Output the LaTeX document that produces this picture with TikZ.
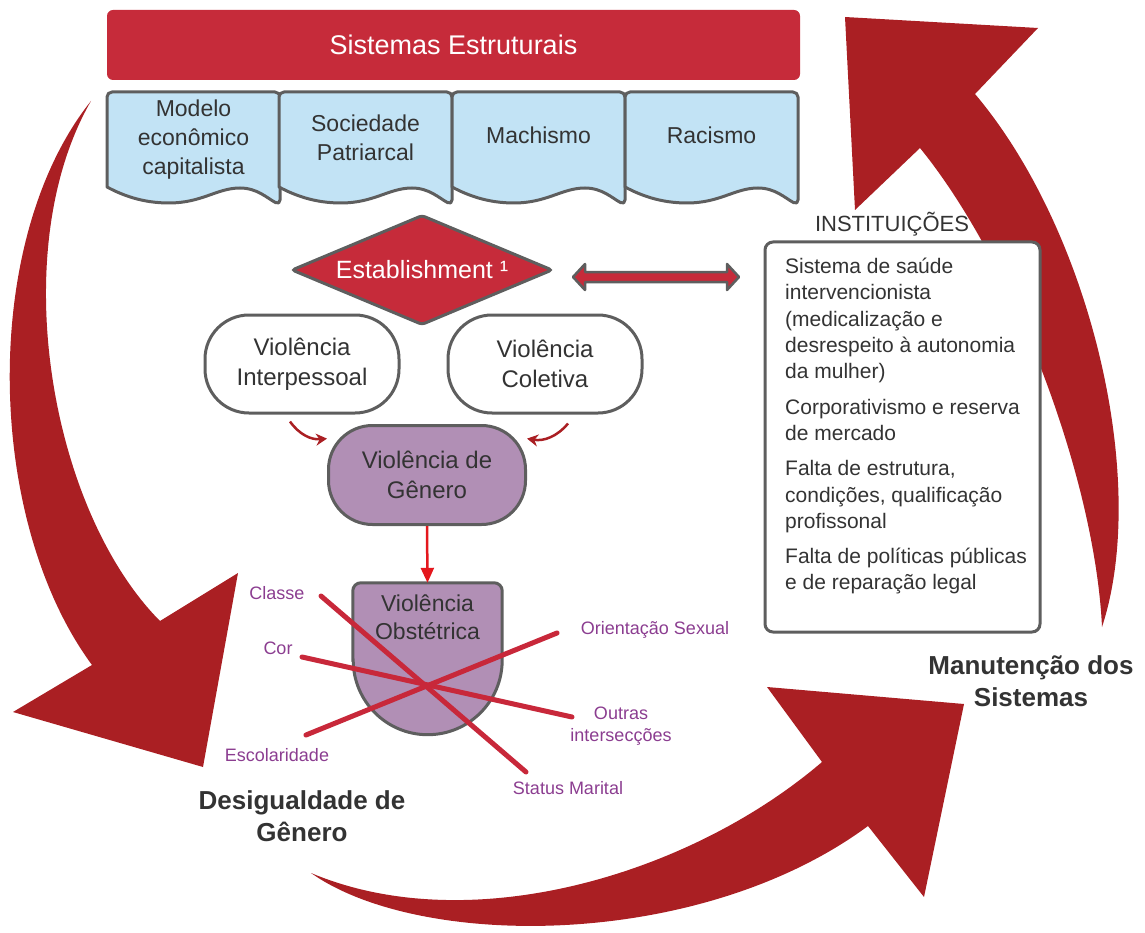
\documentclass[tikz,border=0pt]{standalone}
\usepackage{fontspec}
\setmainfont{Liberation Sans}
\usepackage{xcolor}
\usetikzlibrary{shapes.geometric, arrows.meta, positioning, calc}

\definecolor{sysred}{HTML}{C62B3A}
\definecolor{docblue}{HTML}{C2E3F5}
\definecolor{edgegray}{HTML}{5E5E5E}
\definecolor{viopurple}{HTML}{B18FB5}
\definecolor{bigred}{HTML}{AA1F23}
\definecolor{linered}{HTML}{C8283A}
\definecolor{labelpurple}{HTML}{8B3D90}
\definecolor{textgray}{HTML}{333333}
\definecolor{arrred}{HTML}{E4171D}

\begin{document}
\begin{tikzpicture}[
    x=1pt, y=-1pt,
    bar/.style={rectangle, fill=sysred, rounded corners=6pt, minimum width=693pt, minimum height=70pt, text=white, font=\fontsize{27}{30}\selectfont},
    doc/.style={fill=docblue, draw=edgegray, line width=3pt, line join=round},
    doctxt/.style={align=center, text=textgray, inner sep=0pt, font=\fontsize{23}{29}\selectfont},
    gate/.style={diamond, aspect=2.37, fill=sysred, draw=edgegray, line width=3pt, rounded corners=3pt, minimum width=261pt, minimum height=110pt, inner sep=0pt, text=white, font=\fontsize{25}{28}\selectfont},
    pill/.style={rectangle, draw=edgegray, fill=white, line width=3pt, rounded corners=44pt, minimum width=194pt, minimum height=98pt, align=center, text=textgray, font=\fontsize{24}{30}\selectfont},
    frame/.style={rectangle, draw=edgegray, fill=white, line width=3pt, rounded corners=8pt, minimum width=275pt, minimum height=390pt},
    insttxt/.style={align=left, inner sep=0pt, text=textgray, font=\fontsize{21}{26.3}\selectfont},
    tag/.style={text=labelpurple, inner sep=0pt, align=center, font=\fontsize{18}{22}\selectfont},
    big/.style={text=textgray, inner sep=0pt, align=center, font=\fontsize{26}{32}\selectfont\bfseries},
    cross/.style={draw=linered, line width=5pt, line cap=round},
    carr/.style={-{Stealth[length=11pt, width=12pt]}, draw=bigred, line width=2.5pt},
    sarr/.style={-{Triangle[length=15pt, width=13pt]}, draw=arrred, line width=2.5pt},
    dbl/.style={fill=sysred, draw=edgegray, line width=2.5pt, line join=round}
]
\useasboundingbox (0,0) rectangle (1145,933);

% Big cycle arrows
\fill[bigred] (91,101) .. controls (-20,240) and (-15,520) .. (92,665)
    -- (13,712) -- (203,767) -- (238,573) -- (160,621)
    .. controls (50,510) and (5,250) .. (91,101) -- cycle;
\fill[bigred] (311,873) .. controls (420,950) and (700,950) .. (868,826)
    -- (924,897) -- (964,704) -- (767,687) -- (822,762)
    .. controls (690,875) and (470,940) .. (311,873) -- cycle;
\fill[bigred] (1102,627) .. controls (1150,480) and (1090,230) .. (975,94)
    -- (1038,28) -- (845,17) -- (855,210) -- (920,148)
    .. controls (1015,265) and (1095,480) .. (1102,627) -- cycle;

% Top: structural systems
\node[bar] (sys) at (453.5,45) {Sistemas Estruturais};
\foreach \xa in {107,279,452,625}
    \filldraw[doc] (\xa,187) [rounded corners=5pt] -- (\xa,92) -- ({\xa+173},92) -- ({\xa+173},205) [sharp corners]
        .. controls ({\xa+160},198) and ({\xa+150},188) .. ({\xa+133},188)
        .. controls ({\xa+110},188) and ({\xa+95},203) .. ({\xa+62},203)
        .. controls ({\xa+35},203) and ({\xa+15},195) .. (\xa,187) -- cycle;
\node[doctxt] (capital) at (193.5,140) {Modelo\\econômico\\capitalista};
\node[doctxt] (patriarca) at (365.5,138) {Sociedade\\Patriarcal};
\node[doctxt] (machismo) at (538.5,135) {Machismo};
\node[doctxt] (racismo) at (711.5,135) {Racismo};

% Establishment and institutions
\node[gate] (est) at (422,270) {Establishment ¹};
\node[frame] (inst) at (902.5,437) {};
\node[text=textgray, font=\fontsize{22}{26}\selectfont] (insttitle) at (892,224) {INSTITUIÇÕES};
\node[insttxt, anchor=north west] (instlist) at (785,258) {Sistema de saúde\\intervencionista\\(medicalização e\\desrespeito à autonomia\\da mulher)\\[9pt]Corporativismo e reserva\\de mercado\\[9pt]Falta de estrutura,\\condições, qualificação\\profissonal\\[9pt]Falta de políticas públicas\\e de reparação legal};
\coordinate (dl) at ($(est.east)+(19,7)$);
\draw[dbl] (dl) -- ++(12,-13) -- ++(0,8) -- ++(142,0) -- ++(0,-8) -- ++(12,13) -- ++(-12,13) -- ++(0,-8) -- ++(-142,0) -- ++(0,8) -- cycle;

% Violence types
\node[pill] (inter) at (302,364) {Violência\\Interpessoal};
\node[pill] (col) at (545,364) {Violência\\Coletiva};
\node[pill, fill=viopurple, minimum width=197pt, minimum height=99pt] (gen) at (427,475) {Violência de\\Gênero};
\node[doctxt, minimum width=149pt, minimum height=68pt, font=\fontsize{22}{28}\selectfont] (obst) at (427.5,617) {};
\filldraw[fill=viopurple, draw=edgegray, line width=3pt] ([yshift=-9pt]obst.south west) [rounded corners=8pt] -- (obst.north west) -- (obst.north east) [sharp corners] -- ([yshift=-9pt]obst.south east) arc[start angle=0, end angle=180, radius=74.5] -- cycle;
\node[doctxt, font=\fontsize{23}{28}\selectfont] (obsttxt) at (427.5,617) {Violência\\Obstétrica};

\draw[carr] ([xshift=-12pt, yshift=-7pt]inter.south) to[bend right=30] (gen.160);
\draw[carr] ([xshift=23pt, yshift=-9pt]col.south) to[bend left=30] (gen.20);
\draw[sarr] (gen.south) -- (obst.north);

% Intersections
\coordinate (cls) at (321,596);
\coordinate (mar) at (526,772);
\coordinate (cor) at (302,657);
\coordinate (out) at (572,717);
\coordinate (esc) at (306,735);
\coordinate (ori) at (557,633);
\draw[cross] (cls) -- (mar);
\draw[cross] (cor) -- (out);
\draw[cross] (esc) -- (ori);
\node[tag] (tcls) at (277,593) {Classe};
\node[tag] (tcor) at (278,648) {Cor};
\node[tag] (tesc) at (277,755) {Escolaridade};
\node[tag] (tori) at (655,630) {Orientação Sexual};
\node[tag] (tout) at (621,726) {Outras\\intersecções};
\node[tag] (tmar) at (568,788) {Status Marital};

% Cycle labels
\node[big] (desig) at (302,816) {Desigualdade de\\Gênero};
\node[big] (manut) at (1031,681) {Manutenção dos\\Sistemas};

\end{tikzpicture}
\end{document}
